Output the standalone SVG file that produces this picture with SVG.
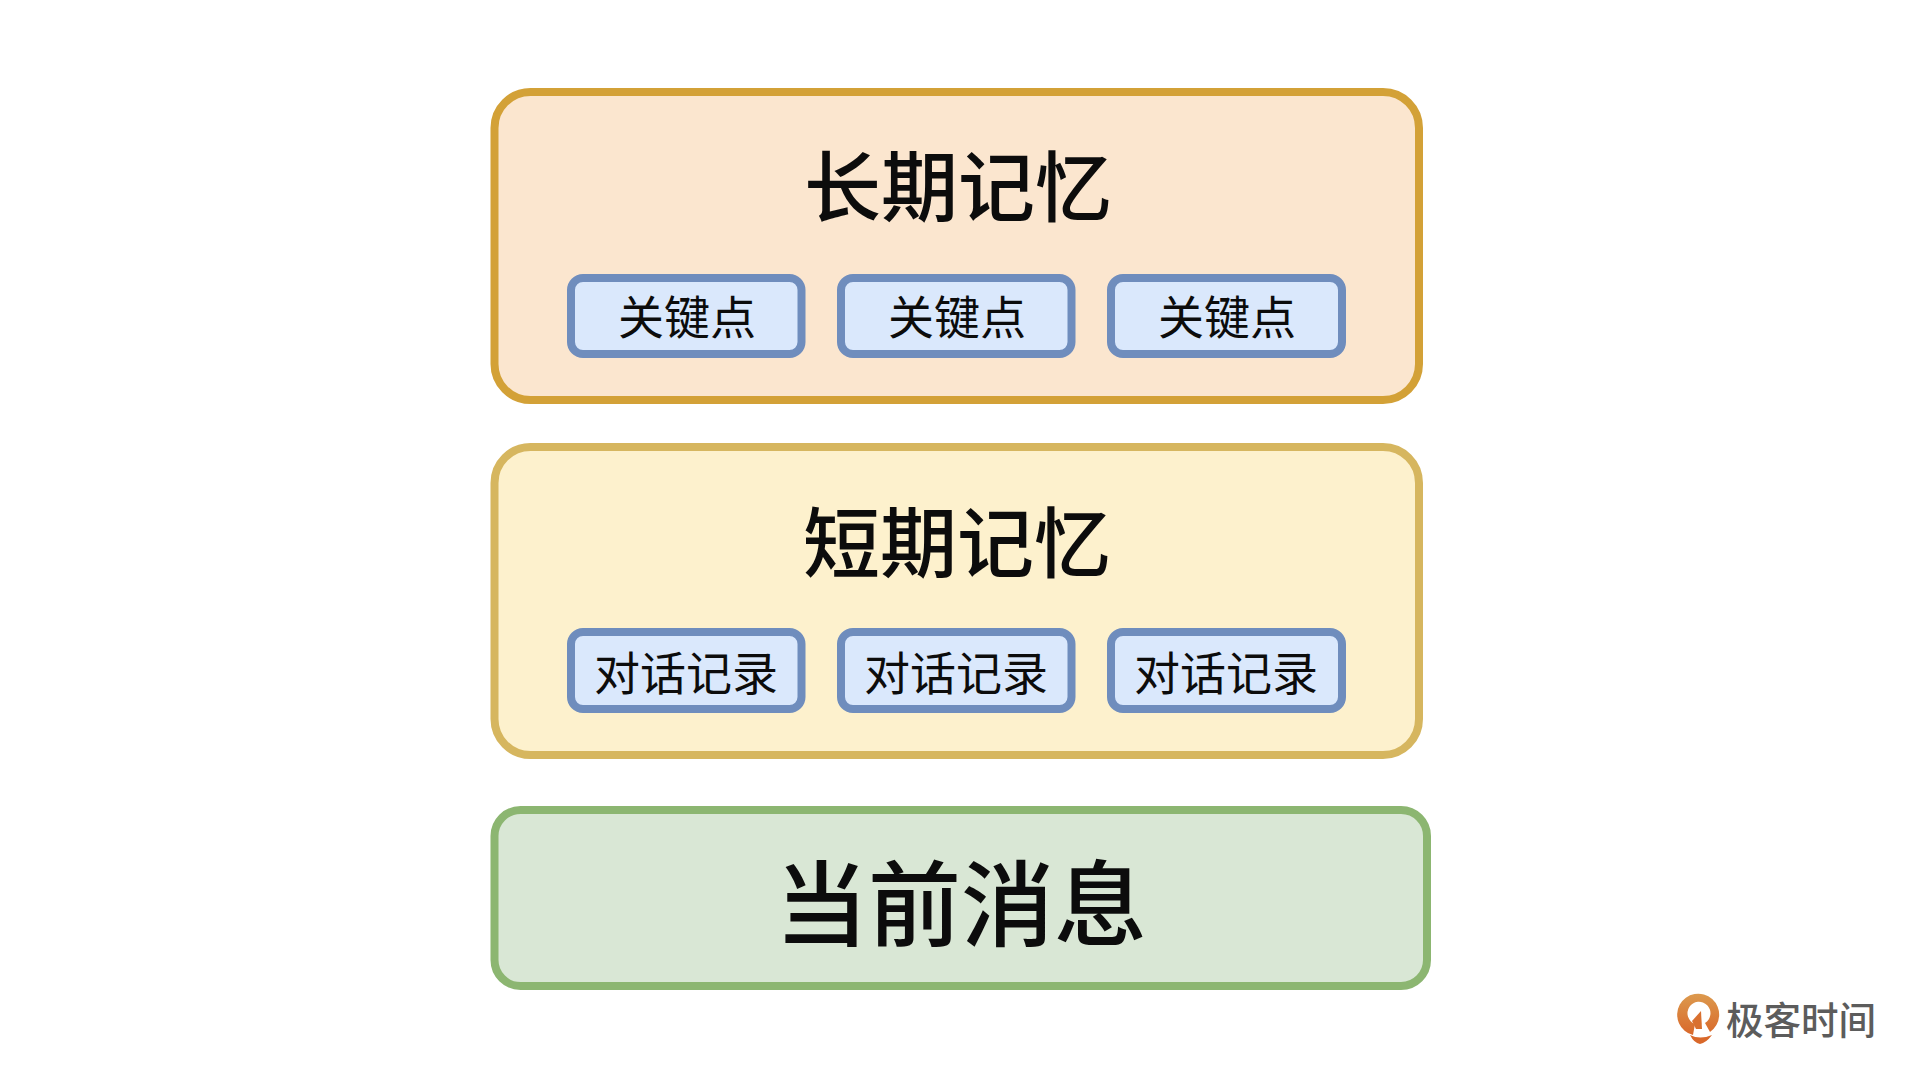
<svg xmlns="http://www.w3.org/2000/svg" width="1920" height="1080" viewBox="0 0 1920 1080">
<style>
text{font-family:"Noto Sans CJK SC","Noto Sans",sans-serif;text-anchor:middle;fill:#0c0c0c;font-weight:500}
.item{fill:#dae8fc;stroke:#6f8dbd;stroke-width:8}
.sub{font-size:46px;font-weight:400}
.title{font-size:77px}
</style>
<defs>
<linearGradient id="logoG" x1="0" y1="0" x2="0" y2="1"><stop offset="0" stop-color="#dc9a4e"/><stop offset="1" stop-color="#d9682a"/></linearGradient>
</defs>
<rect width="1920" height="1080" fill="#fff"/>
<g id="long-term">
<rect x="494.500" y="92" width="924.500" height="308" rx="36" fill="#fbe6cf" stroke="#d3a137" stroke-width="8"/>
<text class="title" x="958" y="216">长期记忆</text>
<g id="key-1"><rect class="item" x="571" y="278" width="230.500" height="76" rx="12"/><text class="sub" x="687" y="334">关键点</text></g>
<g id="key-2"><rect class="item" x="841" y="278" width="230.500" height="76" rx="12"/><text class="sub" x="957" y="334">关键点</text></g>
<g id="key-3"><rect class="item" x="1111" y="278" width="231" height="76" rx="12"/><text class="sub" x="1227" y="334">关键点</text></g>
</g>
<g id="short-term">
<rect x="494.500" y="447" width="924.500" height="308" rx="36" fill="#fdf1cd" stroke="#d6b65f" stroke-width="8"/>
<text class="title" x="957" y="572">短期记忆</text>
<g id="record-1"><rect class="item" x="571" y="632" width="230.500" height="77" rx="12"/><text class="sub" x="686" y="690">对话记录</text></g>
<g id="record-2"><rect class="item" x="841" y="632" width="230.500" height="77" rx="12"/><text class="sub" x="956" y="690">对话记录</text></g>
<g id="record-3"><rect class="item" x="1111" y="632" width="231" height="77" rx="12"/><text class="sub" x="1226" y="690">对话记录</text></g>
</g>
<g id="current">
<rect x="494.500" y="810" width="932.500" height="176" rx="26" fill="#d9e7d5" stroke="#8cb671" stroke-width="8"/>
<text class="title" style="font-size:93px" x="961" y="939">当前消息</text>
</g>
<g id="connectors"/>
<g id="logo" transform="translate(2 -1)">
<path d="M1691 1036A21 21 0 1 1 1708 1033L1703 1024A11.500 11.500 0 1 0 1693 1025Z" fill="url(#logoG)"/>
<path d="M1690 1022L1699 1012L1700 1030L1694 1030Z" fill="#d9702f"/>
<path d="M1688 1036Q1698 1041 1710 1036Q1704 1044 1698 1045Q1692 1044 1688 1036Z" fill="#d9682a"/>
</g>
<text id="brand" x="1801" y="1034" font-size="37.500" style="fill:#5c5c5c;font-weight:500">极客时间</text>
</svg>
